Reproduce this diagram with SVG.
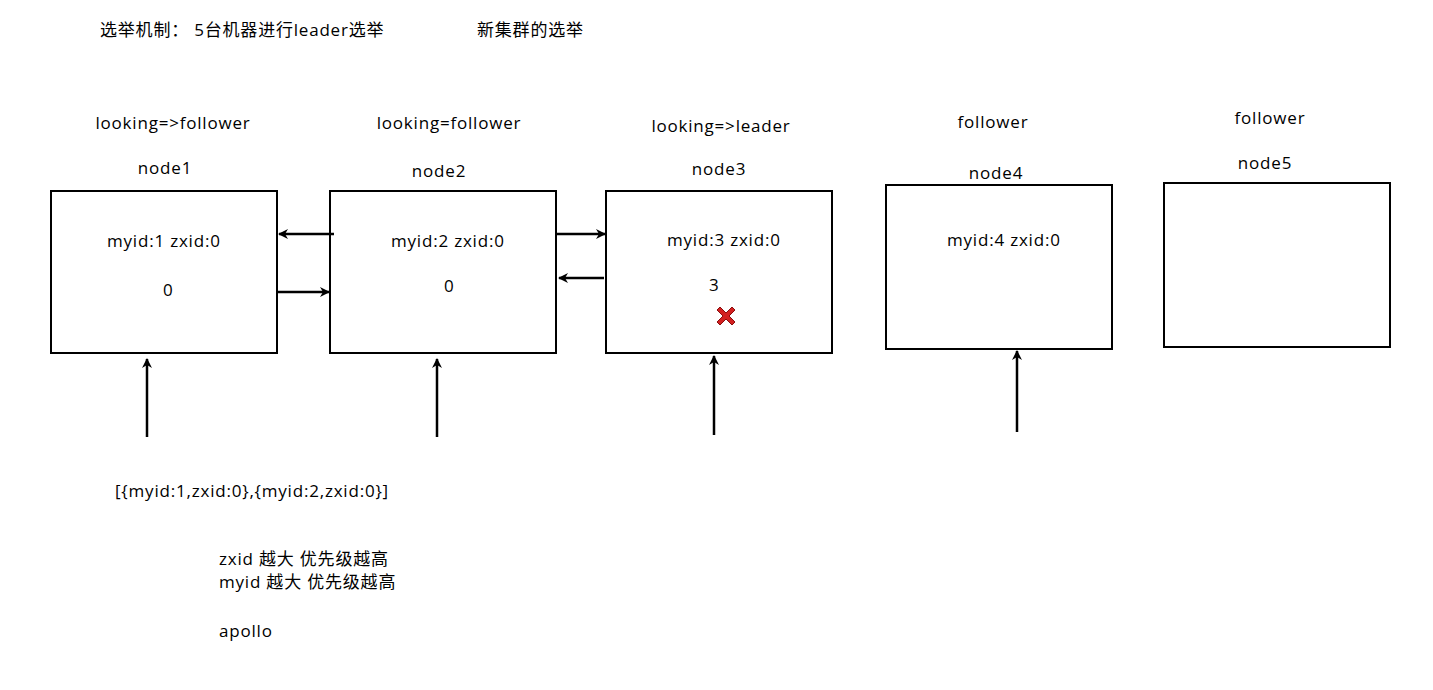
<svg xmlns="http://www.w3.org/2000/svg" width="1433" height="690" viewBox="0 0 1433 690">
<style>
text{font-family:"Open Sans","Noto Sans CJK SC",sans-serif;font-size:17px;letter-spacing:0.8px;fill:#000}
.c{text-anchor:middle}
.b{fill:#fff;stroke:#000;stroke-width:2}
.e{stroke:#000;stroke-width:2.5;fill:none;marker-end:url(#a)}
</style>
<defs><marker id="a" markerWidth="10" markerHeight="10" refX="9" refY="5" orient="auto" markerUnits="userSpaceOnUse" viewBox="0 0 10 10"><path d="M0,0 L10,5 L0,10 L3,5 Z" fill="#000"/></marker></defs>
<rect width="1433" height="690" fill="#fff"/>
<text x="100" y="36">选举机制：  5台机器进行leader选举</text>
<text x="477" y="36">新集群的选举</text>
<g id="node1"><text class="c" x="173" y="129">looking=&gt;follower</text><text class="c" x="165" y="174">node1</text><rect class="b" x="51" y="191" width="226" height="162"/><text x="107" y="247">myid:1 zxid:0</text><text x="163" y="296">0</text></g>
<g id="node2"><text class="c" x="449" y="129">looking=follower</text><text class="c" x="439" y="177">node2</text><rect class="b" x="330" y="191" width="226" height="162"/><text x="391" y="247">myid:2 zxid:0</text><text x="444" y="292">0</text></g>
<g id="node3"><text class="c" x="721" y="132">looking=&gt;leader</text><text class="c" x="719" y="175">node3</text><rect class="b" x="606" y="191" width="226" height="162"/><text x="667" y="246">myid:3 zxid:0</text><text x="709" y="291">3</text>
<g transform="translate(726,316)"><path d="M-9,-6 L-6,-9 L0,-3 L6,-9 L9,-6 L3,0 L9,6 L6,9 L0,3 L-6,9 L-9,6 L-3,0 Z" fill="#d32020" stroke="#8a0d0d" stroke-width="1"/></g></g>
<g id="node4"><text class="c" x="993" y="128">follower</text><text class="c" x="996" y="179">node4</text><rect class="b" x="886" y="185" width="226" height="164"/><text x="947" y="246">myid:4 zxid:0</text></g>
<g id="node5"><text class="c" x="1270" y="124">follower</text><text class="c" x="1265" y="169">node5</text><rect class="b" x="1164" y="183" width="226" height="164"/></g>
<g id="labels"><text x="115" y="497">[{myid:1,zxid:0},{myid:2,zxid:0}]</text><text x="219" y="565">zxid 越大 优先级越高</text><text x="219" y="588">myid 越大 优先级越高</text><text x="219" y="637">apollo</text></g>
<g id="connectors">
<path class="e" d="M334,234 H279"/><path class="e" d="M276,292 H329"/><path class="e" d="M557,234 H605"/><path class="e" d="M604,278 H559"/>
<path class="e" d="M147,437 V359"/><path class="e" d="M437,437 V359"/><path class="e" d="M714,435 V356"/><path class="e" d="M1017,432 V351"/>
</g>
</svg>
